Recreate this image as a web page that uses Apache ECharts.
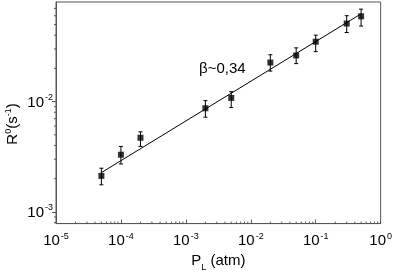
<!DOCTYPE html>
<html><head><meta charset="utf-8">
<script src="https://cdn.jsdelivr.net/npm/echarts@6/dist/echarts.min.js"></script>
<style>html,body{margin:0;padding:0;background:#fff}#c{width:395px;height:277px}</style>
</head><body><div id="c"></div>
<script>
// Data
var pressure = [5e-5, 1e-4, 2e-4, 2e-3, 5e-3, 0.02, 0.05, 0.1, 0.3, 0.5];
var rate     = [2.12e-3, 3.3e-3, 4.7e-3, 8.7e-3, 1.08e-2, 2.26e-2, 2.62e-2, 3.49e-2, 5.1e-2, 5.93e-2];
var rateLow  = [1.76e-3, 2.72e-3, 3.92e-3, 7.22e-3, 8.85e-3, 1.89e-2, 2.21e-2, 2.84e-2, 4.23e-2, 4.84e-2];
var rateHigh = [2.49e-3, 3.92e-3, 5.32e-3, 1.02e-2, 1.23e-2, 2.66e-2, 3.07e-2, 4.0e-2, 6.01e-2, 6.89e-2];
var fitX = [5e-5, 0.5];
var fitY = [2.27e-3, 0.0625];
var xMin = 1e-5, xMax = 1;
var yMin = 7.83e-4, yMax = 0.08;
var xMinorTicks = [2e-5,3e-5,4e-5,5e-5,6e-5,7e-5,8e-5,9e-5,
  2e-4,3e-4,4e-4,5e-4,6e-4,7e-4,8e-4,9e-4,
  2e-3,3e-3,4e-3,5e-3,6e-3,7e-3,8e-3,9e-3,
  2e-2,3e-2,4e-2,5e-2,6e-2,7e-2,8e-2,9e-2,
  0.2,0.3,0.4,0.5,0.6,0.7,0.8,0.9];
var yMinorTicks = [8e-4,9e-4,2e-3,3e-3,4e-3,5e-3,6e-3,7e-3,8e-3,9e-3,2e-2,3e-2,4e-2,5e-2,6e-2,7e-2];

var FONT = '"Liberation Sans", Arial, sans-serif';
var AX = '#555';
function powLabel(v){
  var l = Math.log(v)/Math.LN10, e = Math.round(l);
  if (Math.abs(l-e) > 1e-6) return '';
  return '{b|10}{s|' + e + '}';
}
var labelRich = {
  b: {fontSize: 15, fontFamily: FONT, color: '#000', lineHeight: 17, verticalAlign: 'bottom'},
  s: {fontSize: 9, fontFamily: FONT, color: '#000', lineHeight: 17, verticalAlign: 'top', padding: [0,0,0,1]}
};

var errData = pressure.map(function(p,i){ return [p, rateLow[i], rateHigh[i]]; });
var tickData = xMinorTicks.map(function(v){ return [v, yMin, 0]; })
  .concat(yMinorTicks.map(function(v){ return [xMin, v, 1]; }));

var chart = echarts.init(document.getElementById('c'), null, {renderer: 'canvas'});
chart.setOption({
  animation: false,
  grid: {left: 56, right: 13, top: 2, bottom: 48, show: true, borderColor: AX, borderWidth: 1},
  xAxis: {
    type: 'log', logBase: 10, min: xMin, max: xMax, interval: 1,
    axisLine: {lineStyle: {color: AX, width: 1}},
    axisTick: {inside: true, length: 4, lineStyle: {color: AX}},
    splitLine: {show: false},
    axisLabel: {formatter: powLabel, rich: labelRich, margin: 8},
    name: 'P{sub|L} (atm)', nameLocation: 'middle', nameGap: 26,
    nameTextStyle: {fontSize: 15, fontFamily: FONT, color: '#000',
      rich: {sub: {fontSize: 9, fontFamily: FONT, color: '#000', verticalAlign: 'bottom', lineHeight: 22}}}
  },
  yAxis: {
    type: 'log', logBase: 10, min: yMin, max: yMax,
    axisLine: {lineStyle: {color: AX, width: 1}},
    axisTick: {inside: false, length: 4, lineStyle: {color: AX}},
    splitLine: {show: false},
    axisLabel: {formatter: powLabel, rich: labelRich, margin: 3, showMinLabel: false, showMaxLabel: false},
    name: ''
  },
  graphic: [
    {type: 'text', left: 199, top: 61, style: {text: 'β~0,34', fontSize: 15, fontFamily: FONT, fill: '#000'}},
    {type: 'text', x: 4, y: 124, rotation: Math.PI/2,
      style: {text: 'R{s|0}(s{s|-1})', fontSize: 15, fontFamily: FONT, fill: '#000', align: 'center', verticalAlign: 'top',
        rich: {s: {fontSize: 9, fontFamily: FONT, verticalAlign: 'top', lineHeight: 18}}}}
  ],
  series: [
    {type: 'line', data: fitX.map(function(x,i){return [x, fitY[i]];}), showSymbol: false,
      lineStyle: {color: '#000', width: 1}, z: 2},
    {type: 'custom', data: errData, clip: false, z: 3,
      renderItem: function(params, api){
        var x = api.value(0);
        var lo = api.coord([x, api.value(1)]), hi = api.coord([x, api.value(2)]);
        var c = 2;
        return {type: 'group', children: [
          {type: 'line', shape: {x1: lo[0], y1: lo[1], x2: hi[0], y2: hi[1]}, style: {stroke: '#000', lineWidth: 1}},
          {type: 'line', shape: {x1: lo[0]-c, y1: lo[1], x2: lo[0]+c, y2: lo[1]}, style: {stroke: '#000', lineWidth: 1}},
          {type: 'line', shape: {x1: hi[0]-c, y1: hi[1], x2: hi[0]+c, y2: hi[1]}, style: {stroke: '#000', lineWidth: 1}}
        ]};
      }},
    {type: 'scatter', data: pressure.map(function(p,i){return [p, rate[i]];}), symbol: 'rect', symbolSize: 6,
      itemStyle: {color: '#000'}, z: 4},
    {type: 'custom', data: tickData, clip: false, z: 5, silent: true,
      renderItem: function(params, api){
        var p = api.coord([api.value(0), api.value(1)]);
        if (api.value(2) === 0) {
          return {type: 'line', shape: {x1: p[0], y1: p[1], x2: p[0], y2: p[1]-2}, style: {stroke: AX, lineWidth: 1}};
        }
        return {type: 'line', shape: {x1: p[0], y1: p[1], x2: p[0]-2, y2: p[1]}, style: {stroke: AX, lineWidth: 1}};
      }}
  ]
});
</script></body></html>
